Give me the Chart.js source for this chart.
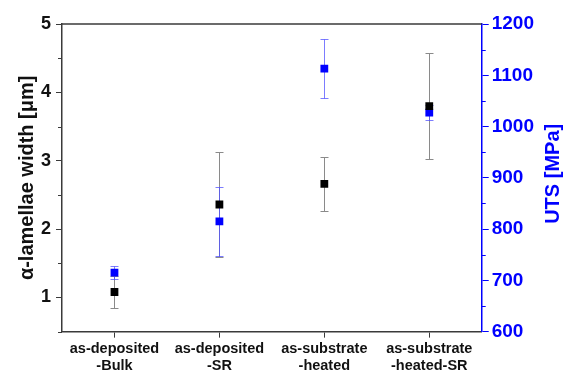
<!DOCTYPE html>
<html>
<head>
<meta charset="utf-8">
<script src="https://cdn.jsdelivr.net/npm/chart.js@4"></script>
<style>
  html, body { margin: 0; padding: 0; background: #fff; }
  #wrap { width: 567px; height: 377px; }
</style>
</head>
<body>
<div id="wrap"><canvas id="chart"></canvas></div>
<script>
// 데이터
const categories = [
    ['as-deposited', '-Bulk'],
    ['as-deposited', '-SR'],
    ['as-substrate', '-heated'],
    ['as-substrate', '-heated-SR']
];
const widthValues = [1.08, 2.36, 2.66, 3.80];
const widthErrors = [0.23, 0.77, 0.39, 0.78];
const utsValues = [715, 815, 1113, 1027];
const utsErrors = [13, 68, 57, 15];

const leftTicks = [1, 2, 3, 4, 5];
const leftMinor = [0.5, 1.5, 2.5, 3.5, 4.5];
const rightTicks = [600, 700, 800, 900, 1000, 1100, 1200];
const rightMinor = [650, 750, 850, 950, 1050, 1150];

const leftTitle = 'α-lamellae width [μm]';
const rightTitle = 'UTS [MPa]';

const axisDark = '#3a3a3a';
const blue = '#0000ff';
const fontFamily = 'Liberation Sans, Arial, sans-serif';

// 오차 막대
const errorBars = {
    id: 'errorBars',
    beforeDatasetsDraw(chart) {
        const ctx = chart.ctx;
        chart.data.datasets.forEach((ds, i) => {
            const meta = chart.getDatasetMeta(i);
            const yScale = chart.scales[ds.yAxisID];
            ctx.save();
            ctx.strokeStyle = ds.errorColor;
            ctx.lineWidth = 1;
            meta.data.forEach((pt, j) => {
                const v = ds.data[j], e = ds.errors[j];
                const top = Math.round(yScale.getPixelForValue(v + e)) + 0.5;
                const bot = Math.round(yScale.getPixelForValue(v - e)) + 0.5;
                const x = Math.round(pt.x) + 0.5;
                ctx.beginPath();
                ctx.moveTo(x, top); ctx.lineTo(x, bot);
                ctx.moveTo(x - 4, top); ctx.lineTo(x + 4, top);
                ctx.moveTo(x - 4, bot); ctx.lineTo(x + 4, bot);
                ctx.stroke();
            });
            ctx.restore();
        });
    }
};

// 상단 테두리, 보조 눈금, 축 제목
const frame = {
    id: 'frame',
    afterDraw(chart) {
        const ctx = chart.ctx;
        const a = chart.chartArea;
        ctx.save();
        ctx.strokeStyle = axisDark;
        ctx.lineWidth = 1.5;
        ctx.beginPath();
        ctx.moveTo(a.left, a.top); ctx.lineTo(a.right, a.top);
        ctx.stroke();

        ctx.lineWidth = 1;
        ctx.beginPath();
        leftMinor.forEach(v => {
            const y = Math.round(chart.scales.y.getPixelForValue(v)) + 0.5;
            ctx.moveTo(a.left - 4, y); ctx.lineTo(a.left, y);
        });
        ctx.stroke();

        ctx.strokeStyle = blue;
        ctx.beginPath();
        rightMinor.forEach(v => {
            const y = Math.round(chart.scales.y1.getPixelForValue(v)) + 0.5;
            ctx.moveTo(a.right, y); ctx.lineTo(a.right + 4, y);
        });
        ctx.stroke();

        // 두 제목 모두 아래에서 위로 읽힘
        const midY = (a.top + a.bottom) / 2;
        ctx.font = 'bold 20px ' + fontFamily;
        ctx.textAlign = 'center';
        ctx.textBaseline = 'middle';

        ctx.save();
        ctx.translate(27, midY);
        ctx.rotate(-Math.PI / 2);
        ctx.fillStyle = '#111';
        ctx.fillText(leftTitle, 0, 0);
        ctx.restore();

        ctx.save();
        ctx.translate(553, midY - 4);
        ctx.rotate(-Math.PI / 2);
        ctx.fillStyle = blue;
        ctx.fillText(rightTitle, 0, 0);
        ctx.restore();

        ctx.restore();
    }
};

const ctx = document.getElementById('chart').getContext('2d');
new Chart(ctx, {
    type: 'line',
    data: {
        labels: categories,
        datasets: [
            {
                label: 'width',
                data: widthValues,
                errors: widthErrors,
                errorColor: '#8a8a8a',
                yAxisID: 'y',
                showLine: false,
                pointStyle: 'rect',
                pointRadius: 5.5,
                pointBackgroundColor: '#000',
                pointBorderColor: '#000',
                pointBorderWidth: 0,
            },
            {
                label: 'UTS',
                data: utsValues,
                errors: utsErrors,
                errorColor: 'rgba(80, 80, 255, 0.75)',
                yAxisID: 'y1',
                showLine: false,
                pointStyle: 'rect',
                pointRadius: 5.5,
                pointBackgroundColor: blue,
                pointBorderColor: blue,
                pointBorderWidth: 0,
            }
        ]
    },
    options: {
        responsive: true,
        maintainAspectRatio: false,
        animation: false,
        layout: { padding: { top: 24, right: 30, bottom: 0, left: 36 } },
        plugins: {
            legend: { display: false },
            tooltip: { enabled: false }
        },
        scales: {
            x: {
                offset: true,
                border: { color: axisDark, width: 1.5 },
                grid: { drawOnChartArea: false, offset: false, tickLength: 6, color: axisDark },
                ticks: {
                    color: '#111',
                    padding: 3,
                    maxRotation: 0,
                    font: { family: fontFamily, size: 14.5, weight: 'bold', lineHeight: 1.15 }
                }
            },
            y: {
                position: 'left',
                min: 0.5,
                max: 5,
                afterBuildTicks: s => { s.ticks = leftTicks.map(v => ({ value: v })); },
                border: { color: axisDark, width: 1.5 },
                grid: { drawOnChartArea: false, tickLength: 6, color: axisDark },
                ticks: {
                    color: '#111',
                    padding: 5,
                    font: { family: fontFamily, size: 18, weight: 'bold' }
                }
            },
            y1: {
                position: 'right',
                min: 600,
                max: 1200,
                afterBuildTicks: s => { s.ticks = rightTicks.map(v => ({ value: v })); },
                border: { color: blue, width: 1.5 },
                grid: { drawOnChartArea: false, tickLength: 7, color: blue },
                ticks: {
                    color: blue,
                    padding: 3,
                    callback: v => String(v),
                    font: { family: fontFamily, size: 19, weight: 'bold' }
                }
            }
        }
    },
    plugins: [errorBars, frame]
});
</script>
</body>
</html>
